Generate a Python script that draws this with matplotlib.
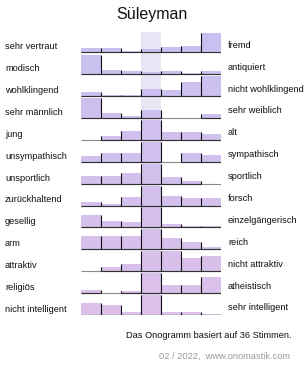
import numpy as np
import matplotlib
matplotlib.use("Agg")
import matplotlib.pyplot as plt
from matplotlib.colors import to_rgb

plt.rcParams['font.family'] = ['Liberation Sans', 'DejaVu Sans']

name = "Süleyman"
left_labels = ["sehr vertraut", "modisch", "wohlklingend", "sehr männlich", "jung",
               "unsympathisch", "unsportlich", "zurückhaltend", "gesellig", "arm",
               "attraktiv", "religiös", "nicht intelligent"]
right_labels = ["fremd", "antiquiert", "nicht wohlklingend", "sehr weiblich", "alt",
                "sympathisch", "sportlich", "forsch", "einzelgängerisch", "reich",
                "nicht attraktiv", "atheistisch", "sehr intelligent"]

# bar heights per row (7 steps); 20 = full cell
heights = [
    [4.7, 4.7, 1.0, 3.7, 5.0, 6.7, 19.7],
    [19.3, 4.0, 3.0, 2.3, 2.7, 0.7, 2.7],
    [4.0, 1.3, 1.0, 7.3, 6.0, 13.7, 19.7],
    [20.0, 5.3, 2.3, 7.7, 0.0, 0.0, 4.3],
    [0.0, 3.7, 9.3, 20.0, 7.7, 7.7, 6.3],
    [5.3, 8.3, 8.3, 20.0, 0.0, 8.3, 6.7],
    [7.7, 7.7, 11.0, 20.0, 6.3, 3.0, 0.0],
    [3.7, 2.0, 8.3, 20.0, 10.0, 8.0, 8.0],
    [12.0, 6.0, 5.7, 20.0, 3.0, 1.7, 1.3],
    [13.3, 13.3, 13.3, 20.0, 11.0, 7.3, 2.3],
    [0.0, 4.3, 7.0, 20.0, 20.0, 13.0, 15.3],
    [3.0, 0.0, 1.7, 20.0, 7.7, 7.7, 15.7],
    [11.7, 10.0, 2.7, 20.0, 2.7, 2.7, 1.3],
]
full = 20.0
votes = 36

pitch = 21.9
n_rows = len(heights)
n_cols = 7

fig = plt.figure(figsize=(3.05, 3.70), dpi=100)
ax = fig.add_axes([81 / 305, 1 - 315 / 370, 140 / 305, (12 * pitch + full) / 370])
ax.set_xlim(0, n_cols)
ax.set_ylim(0, (n_rows - 1) * pitch + full)
ax.axis("off")

# highlighted middle column
ax.axvspan(3, 4, color="#e7e6f4", zorder=0, lw=0)

top_col = np.array(to_rgb("#c8c0f0"))
bot_col = np.array(to_rgb("#dcc0ea"))

for r, row in enumerate(heights):
    base = (n_rows - 1 - r) * pitch
    h = np.minimum(np.array(row), full)
    c = top_col + (bot_col - top_col) * r / (n_rows - 1)
    ax.bar(np.arange(n_cols), h, width=1.0, bottom=base, align="edge",
           color=c, lw=0, zorder=2)
    # baseline
    ax.plot([0, n_cols], [base, base], color="#8a8a8a", lw=0.8, zorder=3,
            solid_capstyle="butt")
    for k in range(n_cols):
        if h[k] > 0:
            ax.plot([k, k + 1], [base, base], color="#303030", lw=0.8, zorder=4,
                    solid_capstyle="butt")
    # separators between steps
    for k in range(1, n_cols):
        sh = max(h[k - 1], h[k])
        if sh > 0:
            ax.plot([k, k], [base, base + sh], color="#101010", lw=0.8, zorder=5,
                    solid_capstyle="butt")
    ax.text(-3.8, base + 5.5, left_labels[r], ha="left", va="center",
            fontsize=6.7, color="#111111", clip_on=False)
    ax.text(7.35, base + 7.0, right_labels[r], ha="left", va="center",
            fontsize=6.7, color="#111111", clip_on=False)

fig.text(152 / 305, 1 - 14 / 370, name, ha="center", va="center", fontsize=11.5,
         color="#111111")
fig.text(292 / 305, 1 - 335 / 370, f"Das Onogramm basiert auf {votes} Stimmen.",
         ha="right", va="center", fontsize=6.7, color="#111111")
fig.text(290 / 305, 1 - 356 / 370, "02 / 2022,  www.onomastik.com",
         ha="right", va="center", fontsize=6.7, color="#999999")

fig.savefig("out.png", dpi=100)
